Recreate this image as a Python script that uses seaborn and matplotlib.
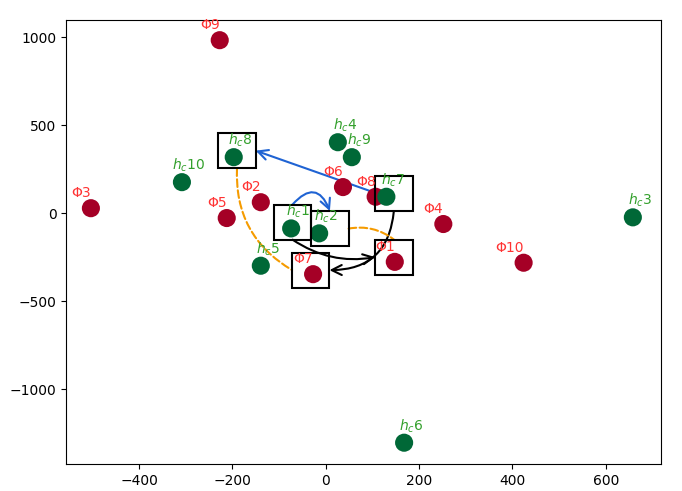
import numpy as np
import pandas as pd
import matplotlib
matplotlib.use('Agg')
import matplotlib.pyplot as plt
from matplotlib.patches import Rectangle
import seaborn as sns

# Puntos Phi (rojos)
phi_ids = ['p1', 'p2', 'p3', 'p4', 'p5', 'p6', 'p7', 'p8', 'p9', 'p10']
phi_x = [148, -139, -503, 252, -212, 37, -27, 107, -227, 424]
phi_y = [-277, 62, 28, -62, -28, 148, -347, 93, 983, -282]

# Puntos h_c (verdes)
hc_ids = ['h1', 'h2', 'h3', 'h4', 'h5', 'h6', 'h7', 'h8', 'h9', 'h10']
hc_x = [-74, -14, 658, 26, -139, 168, 130, -197, 56, -308]
hc_y = [-87, -115, -24, 403, -299, -1305, 93, 318, 318, 176]

# Cajas resaltadas (centro en datos)
box_ids = ['h8', 'h1', 'h2', 'h7', 'p1', 'p7']
box_x = [-190, -71, 9, 146, 146, -32]
box_y = [355, -51, -88, 111, -250, -324]
BOX_W, BOX_H = 80, 200

# Conexiones: origen, ancla, destino, ancla, tipo, curvatura
links = [
    ('h7', 'point', 'h8', 'right', 'blue', 0.0),
    ('h1', 'top', 'h2', 'top', 'blue', -0.8),
    ('h1', 'bottom', 'p1', 'left', 'black', 0.2),
    ('h7', 'bottom', 'p7', 'right', 'black', -0.45),
    ('h8', 'bottom', 'p7', 'left', 'orange', 0.3),
    ('h2', 'right', 'p1', 'top', 'orange', -0.22),
]

df = pd.DataFrame({
    'id': phi_ids + hc_ids,
    'x': phi_x + hc_x,
    'y': phi_y + hc_y,
    'tipo': ['phi'] * len(phi_ids) + ['hc'] * len(hc_ids),
})
df['label'] = [('Φ' + i[1:]) if i.startswith('p') else (r'$h_c$' + i[1:]) for i in df['id']]
pos = {r.id: (r.x, r.y) for r in df.itertuples()}
boxes = {b: (bx, by) for b, bx, by in zip(box_ids, box_x, box_y)}


def anchor(name, where):
    if where == 'point':
        return pos[name]
    cx, cy = boxes[name]
    return {'top': (cx, cy + BOX_H / 2), 'bottom': (cx, cy - BOX_H / 2),
            'left': (cx - BOX_W / 2, cy), 'right': (cx + BOX_W / 2, cy)}[where]


fig = plt.figure(figsize=(6.82, 4.91), dpi=100)
ax = fig.add_axes([0.097, 0.055, 0.872, 0.904])

sns.scatterplot(data=df, x='x', y='y', hue='tipo',
                palette={'phi': '#a50026', 'hc': '#006837'},
                s=170, linewidth=0, legend=False, ax=ax, zorder=2)

# Etiquetas de los puntos
for r in df.itertuples():
    if r.tipo == 'phi':
        ax.annotate(r.label, (r.x, r.y), xytext=(0, 8), textcoords='offset pixels',
                    ha='right', va='bottom', color='#ff3333', fontsize=10, zorder=4)
    else:
        ax.annotate(r.label, (r.x, r.y), xytext=(7, 8), textcoords='offset pixels',
                    ha='center', va='bottom', color='#33a02c', fontsize=10, zorder=4)

for b in box_ids:
    cx, cy = boxes[b]
    ax.add_patch(Rectangle((cx - BOX_W / 2, cy - BOX_H / 2), BOX_W, BOX_H,
                           fill=False, edgecolor='black', linewidth=1.5, zorder=3))

colores = {'blue': '#1f63d3', 'black': 'black', 'orange': '#f59b00'}
for src, sa, dst, da, kind, rad in links:
    props = dict(color=colores[kind], lw=1.5, shrinkA=0, shrinkB=0,
                 connectionstyle=f'arc3,rad={rad}', mutation_scale=18)
    if kind == 'orange':
        props.update(arrowstyle='-', linestyle='--')
    else:
        props.update(arrowstyle='->')
    ax.annotate('', xy=anchor(dst, da), xytext=anchor(src, sa), arrowprops=props, zorder=1)

ax.set_xlim(-556, 718)
ax.set_ylim(-1426, 1097)
ax.set_xlabel('')
ax.set_ylabel('')

plt.savefig('out.png', dpi=100)
plt.close()
